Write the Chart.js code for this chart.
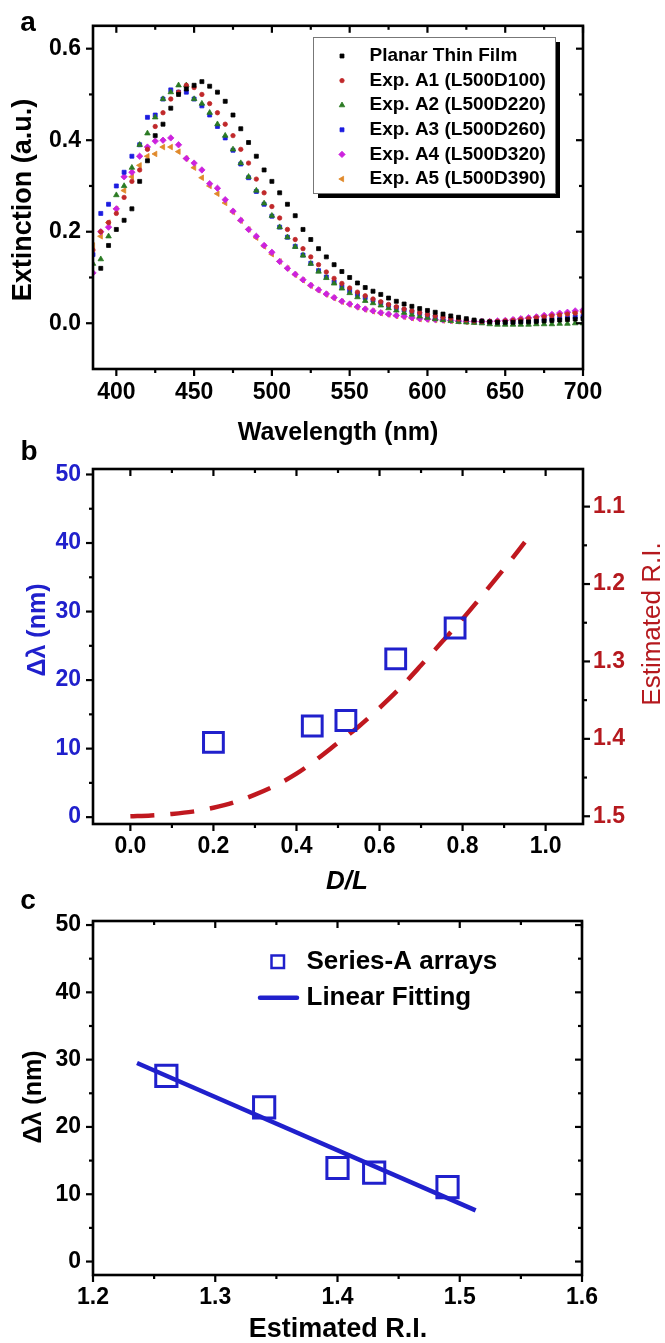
<!DOCTYPE html>
<html><head><meta charset="utf-8">
<script src="https://cdn.jsdelivr.net/npm/chart.js@4/dist/chart.umd.min.js"></script>
<style>
html,body{margin:0;padding:0;background:#fff;}
#wrap{position:relative;width:665px;height:1343px;overflow:hidden;background:#fff;}
canvas{position:absolute;left:0;top:0;}
</style></head><body>
<div id="wrap">
<canvas id="ca" width="665" height="1343"></canvas>
<canvas id="cb" width="665" height="1343"></canvas>
<canvas id="cc" width="665" height="1343"></canvas>
</div>
<script>
// ---------------- DATA ----------------
// Panel a: extinction spectra
const wavelengthNm = [385,390,395,400,405,410,415,420,425,430,435,440,445,450,455,460,465,470,475,480,485,490,495,500,505,510,515,520,525,530,535,540,545,550,555,560,565,570,575,580,585,590,595,600,605,610,615,620,625,630,635,640,645,650,655,660,665,670,675,680,685,690,695,700];
const planarFilm = [null,0.12,0.17,0.205,0.225,0.25,0.31,0.355,0.41,0.435,0.47,0.50,0.512,0.52,0.528,0.518,0.505,0.485,0.455,0.425,0.395,0.365,0.335,0.31,0.285,0.26,0.235,0.205,0.183,0.163,0.145,0.128,0.113,0.1,0.088,0.078,0.07,0.063,0.055,0.048,0.042,0.037,0.032,0.028,0.024,0.02,0.016,0.013,0.01,0.007,0.005,0.003,0.002,0.002,0.002,0.003,0.003,0.004,0.005,0.006,0.007,0.008,0.009,0.01];
const expA1 = [0.16,0.2,0.22,0.24,0.275,0.31,0.335,0.38,0.43,0.46,0.49,0.505,0.52,0.515,0.5,0.48,0.46,0.435,0.41,0.38,0.35,0.315,0.285,0.255,0.23,0.205,0.183,0.163,0.145,0.128,0.112,0.098,0.087,0.077,0.068,0.06,0.053,0.047,0.041,0.036,0.031,0.027,0.023,0.019,0.016,0.013,0.011,0.009,0.007,0.005,0.004,0.004,0.004,0.005,0.006,0.008,0.01,0.012,0.014,0.016,0.018,0.02,0.022,0.024];
const expA2 = [0.13,0.14,0.19,0.28,0.30,0.34,0.39,0.415,0.45,0.49,0.505,0.52,0.52,0.49,0.48,0.46,0.435,0.41,0.38,0.35,0.32,0.29,0.262,0.235,0.21,0.188,0.167,0.148,0.13,0.113,0.099,0.087,0.076,0.066,0.057,0.049,0.044,0.039,0.033,0.028,0.023,0.019,0.015,0.012,0.009,0.007,0.005,0.003,0.002,0.001,0.0,-0.002,-0.003,-0.003,-0.003,-0.003,-0.003,-0.002,-0.002,-0.002,-0.001,-0.001,0.0,0.0];
const expA3 = [0.15,0.24,0.26,0.30,0.33,0.365,0.39,0.45,0.455,0.49,0.51,0.505,0.505,0.49,0.475,0.455,0.43,0.405,0.378,0.348,0.318,0.288,0.26,0.234,0.21,0.188,0.168,0.149,0.131,0.115,0.101,0.09,0.08,0.071,0.063,0.056,0.05,0.045,0.039,0.034,0.029,0.025,0.021,0.017,0.014,0.011,0.009,0.007,0.005,0.004,0.003,0.002,0.002,0.002,0.003,0.004,0.005,0.006,0.008,0.009,0.011,0.012,0.014,0.015];
const expA4 = [0.11,0.2,0.21,0.25,0.32,0.33,0.365,0.385,0.398,0.40,0.405,0.39,0.36,0.35,0.335,0.305,0.295,0.27,0.245,0.225,0.205,0.19,0.17,0.155,0.135,0.12,0.107,0.095,0.083,0.073,0.064,0.056,0.048,0.042,0.036,0.031,0.027,0.023,0.02,0.017,0.015,0.012,0.01,0.009,0.008,0.007,0.006,0.005,0.004,0.004,0.004,0.004,0.005,0.006,0.008,0.01,0.012,0.014,0.017,0.019,0.022,0.024,0.027,0.029];
const expA5 = [0.17,0.19,0.22,0.25,0.29,0.32,0.345,0.365,0.37,0.385,0.385,0.375,0.36,0.34,0.318,0.30,0.283,0.263,0.243,0.224,0.205,0.187,0.168,0.151,0.135,0.12,0.106,0.094,0.082,0.072,0.063,0.055,0.047,0.041,0.035,0.03,0.026,0.022,0.019,0.016,0.014,0.011,0.009,0.008,0.007,0.006,0.005,0.004,0.003,0.003,0.003,0.003,0.004,0.005,0.007,0.009,0.011,0.013,0.015,0.017,0.019,0.021,0.023,0.026];
const spectraLabels = ['Planar Thin Film','Exp. A1 (L500D100)','Exp. A2 (L500D220)','Exp. A3 (L500D260)','Exp. A4 (L500D320)','Exp. A5 (L500D390)'];
const aXTicks = [400,450,500,550,600,650,700];
const aXMinor = [425,475,525,575,625,675];
const aYTicks = [0.0,0.2,0.4,0.6];
const aYMinor = [0.1,0.3,0.5];

// Panel b
const bDL = [0.20,0.438,0.519,0.639,0.782];
const bShift = [10.9,13.3,14.1,23.1,27.6];
const riDL = [0,0.05,0.10,0.15,0.20,0.25,0.30,0.35,0.40,0.45,0.50,0.55,0.60,0.65,0.70,0.75,0.80,0.85,0.90,0.95];
const riEst = [1.500,1.499,1.497,1.494,1.489,1.482,1.472,1.460,1.445,1.426,1.405,1.384,1.360,1.334,1.305,1.275,1.245,1.213,1.180,1.146];
const bXTicks = [0.0,0.2,0.4,0.6,0.8,1.0];
const bXMinor = [0.1,0.3,0.5,0.7,0.9];
const bYTicks = [0,10,20,30,40,50];
const bYMinor = [5,15,25,35,45];
const bY2Ticks = [1.1,1.2,1.3,1.4,1.5];
const bY2Minor = [1.15,1.25,1.35,1.45];

// Panel c
const cRI = [1.26,1.34,1.40,1.43,1.49];
const cShift = [27.6,22.9,13.9,13.2,11.05];
const fitRI = [1.236,1.513];
const fitShift = [29.5,7.6];
const cXTicks = [1.2,1.3,1.4,1.5,1.6];
const cXMinor = [1.25,1.35,1.45,1.55];
const cYTicks = [0,10,20,30,40,50];
const cYMinor = [5,15,25,35,45];

// ---------------- HELPERS ----------------
const FF = "'Liberation Sans', Arial, Helvetica, sans-serif";
Chart.defaults.font.family = FF;
const BLUE = '#2020cc';
const RED = '#c0181f';
const zip = (xs, ys) => xs.map((x, i) => ({x: x, y: ys[i]}));
const setTicks = arr => (s => { s.ticks = arr.map(v => ({value: v})); });
const fixW = w => (s => { s.width = w; });
const fixH = h => (s => { s.height = h; });

function txt(ctx, text, x, y, font, color, rot, align) {
  ctx.save();
  ctx.translate(x, y);
  if (rot) ctx.rotate(rot);
  ctx.font = font; ctx.fillStyle = color;
  ctx.textAlign = align || 'center'; ctx.textBaseline = 'middle';
  ctx.fillText(text, 0, 0);
  ctx.restore();
}
function tickLine(ctx, a, side, dir, p, len) {
  const s = dir === 'out' ? 1 : -1;
  ctx.beginPath();
  if (side === 'bottom') { ctx.moveTo(p, a.bottom); ctx.lineTo(p, a.bottom + s * len); }
  else if (side === 'top') { ctx.moveTo(p, a.top); ctx.lineTo(p, a.top - s * len); }
  else if (side === 'left') { ctx.moveTo(a.left, p); ctx.lineTo(a.left - s * len, p); }
  else { ctx.moveTo(a.right, p); ctx.lineTo(a.right + s * len, p); }
  ctx.stroke();
}
function framePlugin(id, sides, extra) {
  return {
    id: id,
    afterDraw(chart) {
      const ctx = chart.ctx, a = chart.chartArea;
      ctx.save();
      ctx.strokeStyle = '#000'; ctx.lineWidth = 2.6;
      ctx.strokeRect(a.left, a.top, a.right - a.left, a.bottom - a.top);
      ctx.lineWidth = 2.2;
      sides.forEach(sd => {
        const sc = chart.scales[sd.scale];
        sd.major.forEach(v => tickLine(ctx, a, sd.side, sd.dir, sc.getPixelForValue(v), 7));
        sd.minor.forEach(v => tickLine(ctx, a, sd.side, sd.dir, sc.getPixelForValue(v), 4));
      });
      ctx.restore();
      if (extra) extra(chart, ctx, a);
    }
  };
}
function marker(ctx, style, r, rot, x, y, color, bw) {
  ctx.save();
  ctx.fillStyle = color; ctx.strokeStyle = color; ctx.lineWidth = bw;
  if (Chart.helpers && Chart.helpers.drawPoint) {
    Chart.helpers.drawPoint(ctx, {pointStyle: style, radius: r, rotation: rot, borderWidth: bw}, x, y);
  } else {
    ctx.beginPath(); ctx.arc(x, y, r, 0, Math.PI * 2); ctx.fill();
  }
  ctx.restore();
}
const tickFont = {size: 23, weight: 'bold', family: FF};

// ---------------- PANEL A ----------------
const aStyles = [
  {c: '#000000', s: 'rect', r: 2.8, rot: 0},
  {c: '#c0282a', s: 'circle', r: 2.2, rot: 0},
  {c: '#2a7a22', s: 'triangle', r: 3.2, rot: 0},
  {c: '#1c1ce0', s: 'rect', r: 2.8, rot: 0},
  {c: '#cc22dd', s: 'rectRot', r: 3.2, rot: 0},
  {c: '#e0892a', s: 'triangle', r: 3.2, rot: -90}
];
const aSeries = [planarFilm, expA1, expA2, expA3, expA4, expA5];
const aDatasets = aSeries.map((ys, i) => ({
  label: spectraLabels[i],
  data: zip(wavelengthNm, ys).filter(p => p.y !== null),
  pointStyle: aStyles[i].s, pointRadius: aStyles[i].r, pointRotation: aStyles[i].rot,
  backgroundColor: aStyles[i].c, borderColor: aStyles[i].c, pointBorderWidth: 0.8,
  showLine: false
}));

new Chart(document.getElementById('ca'), {
  type: 'scatter',
  data: {datasets: aDatasets},
  options: {
    responsive: false, animation: false, devicePixelRatio: 1,
    layout: {padding: {left: 0, right: 82, top: 15, bottom: 1343 - 369 - 78}},
    plugins: {legend: {display: false}, tooltip: {enabled: false}},
    scales: {
      x: {type: 'linear', min: 385, max: 700, afterBuildTicks: setTicks(aXTicks), afterFit: fixH(78),
          grid: {display: false, drawTicks: false}, border: {display: false},
          ticks: {font: tickFont, color: '#000', padding: 10, maxRotation: 0, callback: v => String(v)}},
      y: {type: 'linear', min: -0.1, max: 0.65, afterBuildTicks: setTicks(aYTicks), afterFit: fixW(93),
          grid: {display: false, drawTicks: false}, border: {display: false},
          ticks: {font: tickFont, color: '#000', padding: 12, callback: v => Number(v).toFixed(1)}}
    }
  },
  plugins: [framePlugin('frameA', [
    {scale: 'x', side: 'bottom', dir: 'out', major: aXTicks, minor: aXMinor},
    {scale: 'x', side: 'top', dir: 'in', major: aXTicks, minor: aXMinor},
    {scale: 'y', side: 'left', dir: 'out', major: aYTicks, minor: aYMinor},
    {scale: 'y', side: 'right', dir: 'in', major: aYTicks, minor: aYMinor}
  ], (chart, ctx, a) => {
    txt(ctx, 'a', 28, 23, 'bold 28px ' + FF, '#000');
    txt(ctx, 'Extinction (a.u.)', 24, 200, 'bold 27px ' + FF, '#000', -Math.PI / 2);
    txt(ctx, 'Wavelength (nm)', 338, 433, 'bold 25px ' + FF, '#000');
    // legend box with shadow
    const bx = 313, by = 37, bw = 242, bh = 156;
    ctx.save();
    ctx.fillStyle = '#000'; ctx.fillRect(bx + 5, by + 5, bw, bh);
    ctx.fillStyle = '#fff'; ctx.fillRect(bx, by, bw, bh);
    ctx.strokeStyle = '#777'; ctx.lineWidth = 1; ctx.strokeRect(bx + 0.5, by + 0.5, bw, bh);
    ctx.restore();
    chart.data.datasets.forEach((ds, i) => {
      const yy = 56 + i * 24.6;
      marker(ctx, aStyles[i].s, aStyles[i].r, aStyles[i].rot, 342, yy, aStyles[i].c, 0.8);
      txt(ctx, ds.label, 369.5, yy, 'bold 19px ' + FF, '#000', 0, 'left');
    });
  })]
});

// ---------------- PANEL B ----------------
new Chart(document.getElementById('cb'), {
  type: 'scatter',
  data: {datasets: [
    {label: 'Δλ', data: zip(bDL, bShift), yAxisID: 'y', pointStyle: 'rect', pointRadius: 14,
     pointBorderWidth: 3, borderColor: BLUE, backgroundColor: 'rgba(0,0,0,0)', showLine: false},
    {label: 'Estimated R.I.', data: zip(riDL, riEst), yAxisID: 'y2', showLine: true, pointRadius: 0,
     borderColor: RED, borderWidth: 4.5, borderDash: [24, 16], cubicInterpolationMode: 'monotone', fill: false}
  ]},
  options: {
    responsive: false, animation: false, devicePixelRatio: 1,
    layout: {padding: {left: 0, right: 0, top: 469, bottom: 1343 - 824 - 71}},
    plugins: {legend: {display: false}, tooltip: {enabled: false}},
    scales: {
      x: {type: 'linear', min: -0.09, max: 1.09, afterBuildTicks: setTicks(bXTicks), afterFit: fixH(71),
          grid: {display: false, drawTicks: false}, border: {display: false},
          ticks: {font: tickFont, color: '#000', padding: 9, maxRotation: 0, callback: v => Number(v).toFixed(1)}},
      y: {type: 'linear', position: 'left', min: -1, max: 50.8, afterBuildTicks: setTicks(bYTicks), afterFit: fixW(93),
          grid: {display: false, drawTicks: false}, border: {display: false},
          ticks: {font: tickFont, color: BLUE, padding: 12, callback: v => String(v)}},
      y2: {type: 'linear', position: 'right', reverse: true, min: 1.0514, max: 1.51, afterBuildTicks: setTicks(bY2Ticks), afterFit: fixW(82),
          grid: {display: false, drawTicks: false}, border: {display: false},
          ticks: {font: tickFont, color: '#b5191e', padding: 10, callback: v => Number(v).toFixed(1)}}
    }
  },
  plugins: [framePlugin('frameB', [
    {scale: 'x', side: 'bottom', dir: 'out', major: bXTicks, minor: bXMinor},
    {scale: 'x', side: 'top', dir: 'in', major: bXTicks, minor: bXMinor},
    {scale: 'y', side: 'left', dir: 'out', major: bYTicks, minor: bYMinor},
    {scale: 'y2', side: 'right', dir: 'out', major: bY2Ticks, minor: bY2Minor}
  ], (chart, ctx, a) => {
    txt(ctx, 'b', 29, 452, 'bold 28px ' + FF, '#000');
    txt(ctx, 'Δλ (nm)', 38, 630, 'bold 25px ' + FF, BLUE, -Math.PI / 2);
    txt(ctx, 'Estimated R.I.', 653, 624, '26px ' + FF, '#b5191e', -Math.PI / 2);
    txt(ctx, 'D/L', 347, 882, 'italic bold 26px ' + FF, '#000');
  })]
});

// ---------------- PANEL C ----------------
new Chart(document.getElementById('cc'), {
  type: 'scatter',
  data: {datasets: [
    {label: 'Series-A arrays', data: zip(cRI, cShift), pointStyle: 'rect', pointRadius: 15,
     pointBorderWidth: 3, borderColor: BLUE, backgroundColor: 'rgba(0,0,0,0)', showLine: false},
    {label: 'Linear Fitting', data: zip(fitRI, fitShift), showLine: true, pointRadius: 0,
     borderColor: BLUE, borderWidth: 4.5, fill: false}
  ]},
  options: {
    responsive: false, animation: false, devicePixelRatio: 1,
    layout: {padding: {left: 0, right: 83, top: 921, bottom: 1343 - 1275 - 68}},
    plugins: {legend: {display: false}, tooltip: {enabled: false}},
    scales: {
      x: {type: 'linear', min: 1.2, max: 1.6, afterBuildTicks: setTicks(cXTicks), afterFit: fixH(68),
          grid: {display: false, drawTicks: false}, border: {display: false},
          ticks: {font: tickFont, color: '#000', padding: 9, maxRotation: 0, callback: v => Number(v).toFixed(1)}},
      y: {type: 'linear', min: -2, max: 50.6, afterBuildTicks: setTicks(cYTicks), afterFit: fixW(93),
          grid: {display: false, drawTicks: false}, border: {display: false},
          ticks: {font: tickFont, color: '#000', padding: 12, callback: v => String(v)}}
    }
  },
  plugins: [framePlugin('frameC', [
    {scale: 'x', side: 'bottom', dir: 'out', major: cXTicks, minor: cXMinor},
    {scale: 'x', side: 'top', dir: 'in', major: cXTicks, minor: cXMinor},
    {scale: 'y', side: 'left', dir: 'out', major: cYTicks, minor: cYMinor},
    {scale: 'y', side: 'right', dir: 'in', major: cYTicks, minor: cYMinor}
  ], (chart, ctx, a) => {
    txt(ctx, 'c', 28, 901, 'bold 28px ' + FF, '#000');
    txt(ctx, 'Δλ (nm)', 34, 1097, 'bold 25px ' + FF, '#000', -Math.PI / 2);
    txt(ctx, 'Estimated R.I.', 338, 1330, 'bold 27px ' + FF, '#000');
    const ds = chart.data.datasets;
    ctx.save();
    ctx.strokeStyle = BLUE; ctx.lineWidth = 2.5;
    ctx.strokeRect(271.5, 955.5, 12.5, 12.5);
    ctx.lineWidth = 4.5; ctx.lineCap = 'round';
    ctx.beginPath(); ctx.moveTo(260, 997.7); ctx.lineTo(297, 997.7); ctx.stroke();
    ctx.restore();
    txt(ctx, ds[0].label, 306.5, 961.7, 'bold 26px ' + FF, '#000', 0, 'left');
    txt(ctx, ds[1].label, 306.5, 997.7, 'bold 26px ' + FF, '#000', 0, 'left');
  })]
});
</script>
</body></html>
